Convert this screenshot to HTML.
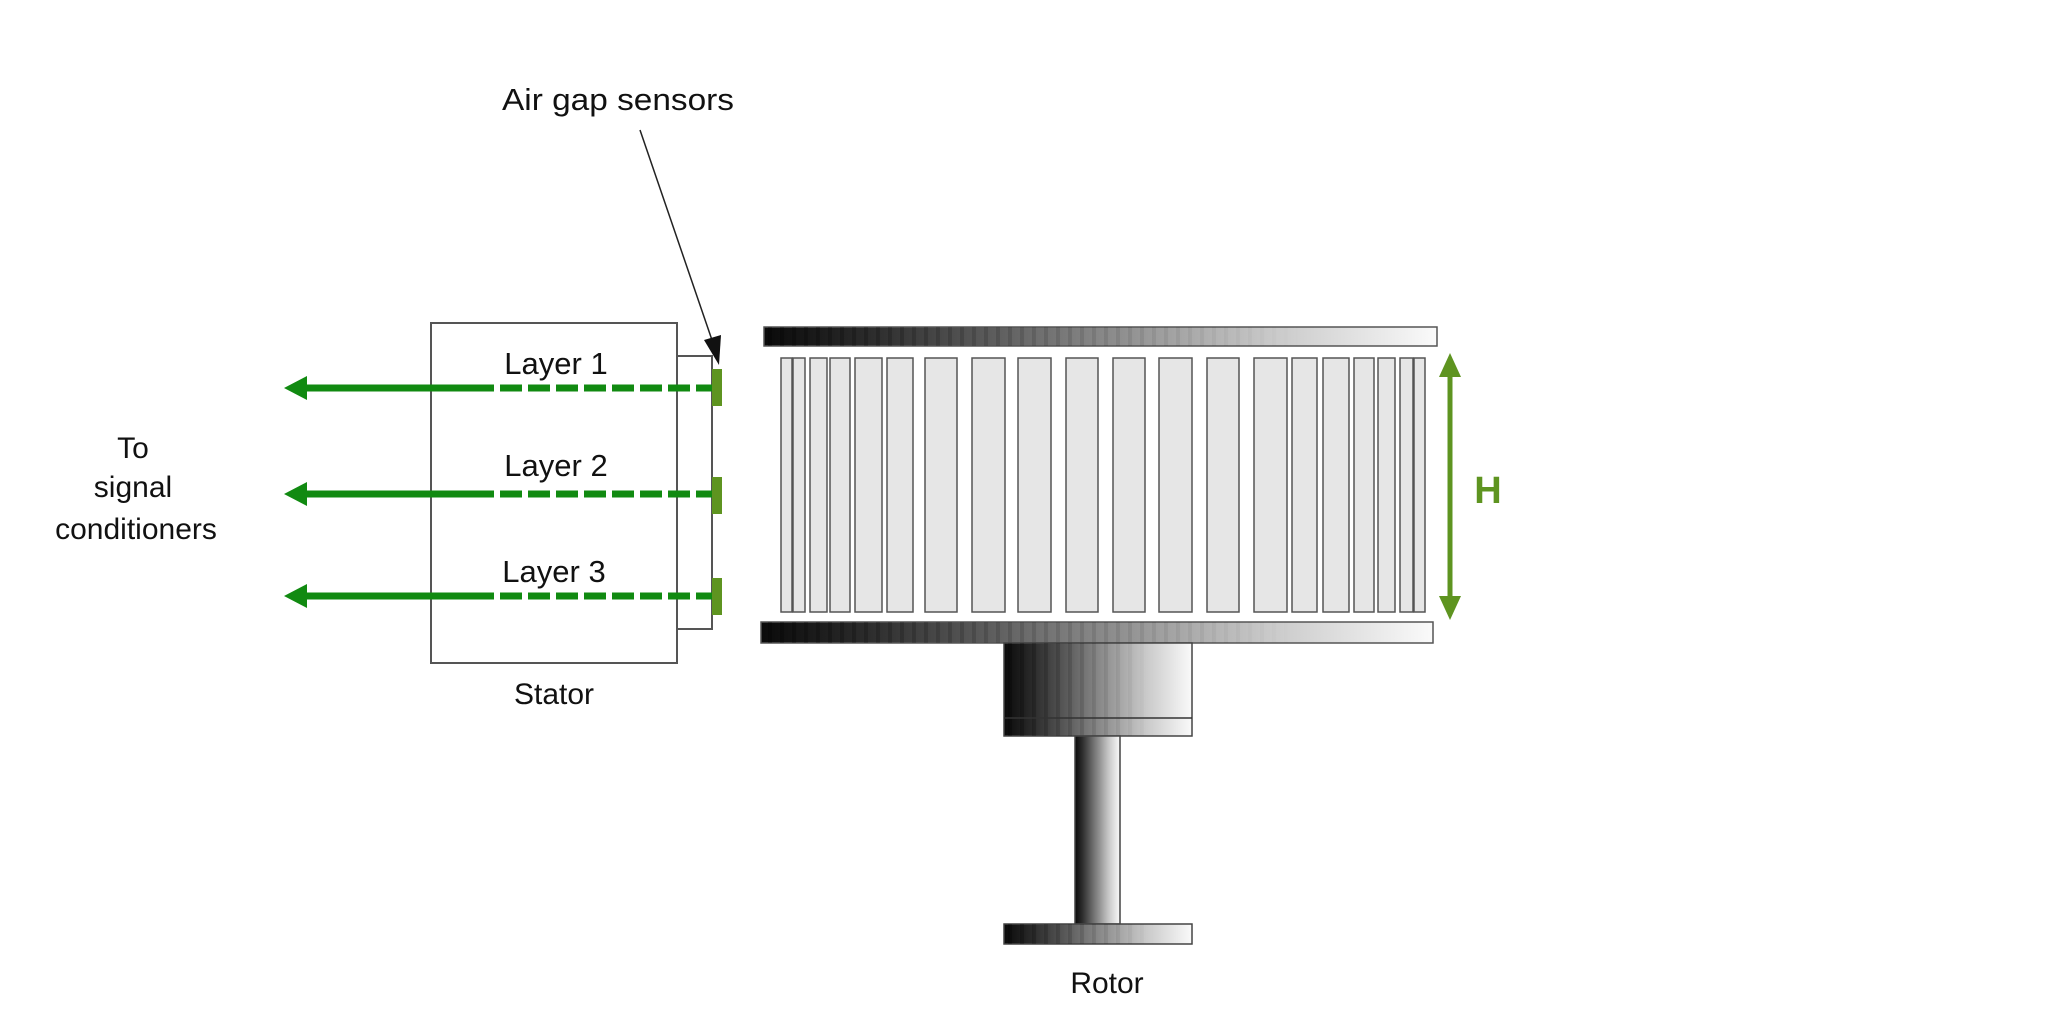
<!DOCTYPE html>
<html><head><meta charset="utf-8"><style>
html,body{margin:0;padding:0;background:#fff;}
svg{display:block;}
text{font-family:"Liberation Sans",Arial,sans-serif;fill:#111;}
</style></head><body>
<svg width="2048" height="1024" viewBox="0 0 2048 1024" xmlns="http://www.w3.org/2000/svg">
<defs>
<linearGradient id="g" x1="0" x2="1" y1="0" y2="0">
<stop offset="0" stop-color="#0a0a0a"/>
<stop offset="0.15" stop-color="#2a2a2a"/>
<stop offset="0.45" stop-color="#7a7a7a"/>
<stop offset="0.75" stop-color="#c8c8c8"/>
<stop offset="1" stop-color="#fafafa"/>
</linearGradient>
<pattern id="st" width="12" height="10" patternUnits="userSpaceOnUse">
<rect x="0" y="0" width="4" height="10" fill="rgba(0,0,0,0.22)"/>
</pattern>
<linearGradient id="mk" x1="0" x2="1">
<stop offset="0" stop-color="#fff"/>
<stop offset="0.5" stop-color="#fff" stop-opacity="0.4"/>
<stop offset="0.8" stop-color="#fff" stop-opacity="0"/>
</linearGradient>
<mask id="m" maskContentUnits="objectBoundingBox">
<rect x="0" y="0" width="1" height="1" fill="url(#mk)"/>
</mask>
</defs>

<!-- Stator -->
<rect x="431" y="323" width="246" height="340" fill="#fff" stroke="#555" stroke-width="2"/>
<polyline points="677,356 712,356 712,629 677,629" fill="none" stroke="#555" stroke-width="2"/>

<!-- arrows -->
<g stroke="#118a11" stroke-width="7" fill="none">
<line x1="300" y1="388" x2="472" y2="388"/>
<line x1="300" y1="494" x2="472" y2="494"/>
<line x1="300" y1="596" x2="472" y2="596"/>
<line x1="472" y1="388" x2="712" y2="388" stroke-dasharray="22,6"/>
<line x1="472" y1="494" x2="712" y2="494" stroke-dasharray="22,6"/>
<line x1="472" y1="596" x2="712" y2="596" stroke-dasharray="22,6"/>
</g>
<g fill="#118a11">
<polygon points="284,388 307,376 307,400"/>
<polygon points="284,494 307,482 307,506"/>
<polygon points="284,596 307,584 307,608"/>
</g>
<!-- sensors -->
<g fill="#5e9420">
<rect x="712" y="369" width="10" height="37"/>
<rect x="712" y="477" width="10" height="37"/>
<rect x="712" y="578" width="10" height="37"/>
</g>

<!-- leader -->
<line x1="640" y1="130" x2="713" y2="343" stroke="#222" stroke-width="1.5"/>
<polygon points="719,365 704,340 721,335" fill="#111"/>

<!-- labels -->
<text x="618" y="110" font-size="31" text-anchor="middle" textLength="232" lengthAdjust="spacingAndGlyphs">Air gap sensors</text>
<text x="556" y="374" font-size="31" text-anchor="middle">Layer 1</text>
<text x="556" y="476" font-size="31" text-anchor="middle">Layer 2</text>
<text x="554" y="582" font-size="31" text-anchor="middle">Layer 3</text>
<text x="554" y="704" font-size="30" text-anchor="middle">Stator</text>
<text x="133" y="458" font-size="30" text-anchor="middle">To</text>
<text x="133" y="497" font-size="30" text-anchor="middle">signal</text>
<text x="136" y="539" font-size="30" text-anchor="middle">conditioners</text>
<text x="1107" y="993" font-size="30" text-anchor="middle">Rotor</text>

<!-- rotor bars -->
<rect x="764" y="327" width="673" height="19" fill="url(#g)" stroke="#555" stroke-width="1.5"/>
<rect x="764" y="327" width="673" height="19" fill="url(#st)" mask="url(#m)"/>
<rect x="761" y="622" width="672" height="21" fill="url(#g)" stroke="#555" stroke-width="1.5"/>
<rect x="761" y="622" width="672" height="21" fill="url(#st)" mask="url(#m)"/>

<!-- slats -->
<g fill="#e6e6e6" stroke="#555" stroke-width="1.5">
<rect x="781" y="358" width="11" height="254"/>
<rect x="793" y="358" width="12" height="254"/>
<rect x="810" y="358" width="17" height="254"/>
<rect x="830" y="358" width="20" height="254"/>
<rect x="855" y="358" width="27" height="254"/>
<rect x="887" y="358" width="26" height="254"/>
<rect x="925" y="358" width="32" height="254"/>
<rect x="972" y="358" width="33" height="254"/>
<rect x="1018" y="358" width="33" height="254"/>
<rect x="1066" y="358" width="32" height="254"/>
<rect x="1113" y="358" width="32" height="254"/>
<rect x="1159" y="358" width="33" height="254"/>
<rect x="1207" y="358" width="32" height="254"/>
<rect x="1254" y="358" width="33" height="254"/>
<rect x="1292" y="358" width="25" height="254"/>
<rect x="1323" y="358" width="26" height="254"/>
<rect x="1354" y="358" width="20" height="254"/>
<rect x="1378" y="358" width="17" height="254"/>
<rect x="1400" y="358" width="13" height="254"/>
<rect x="1414" y="358" width="11" height="254"/>
</g>

<!-- H arrow -->
<line x1="1450" y1="372" x2="1450" y2="601" stroke="#5e9420" stroke-width="5"/>
<polygon points="1450,353 1439,377 1461,377" fill="#5e9420"/>
<polygon points="1450,620 1439,596 1461,596" fill="#5e9420"/>
<text x="1488" y="503" font-size="38" font-weight="bold" text-anchor="middle" style="fill:#5e9420">H</text>

<!-- hub -->
<rect x="1004" y="643" width="188" height="93" fill="url(#g)" stroke="#444" stroke-width="1.5"/>
<rect x="1004" y="643" width="188" height="93" fill="url(#st)" mask="url(#m)"/>
<line x1="1004" y1="718" x2="1192" y2="718" stroke="#333" stroke-width="1.5"/>
<!-- shaft -->
<rect x="1075" y="736" width="45" height="188" fill="url(#g)" stroke="#444" stroke-width="1.5"/>
<!-- base -->
<rect x="1004" y="924" width="188" height="20" fill="url(#g)" stroke="#444" stroke-width="1.5"/>
<rect x="1004" y="924" width="188" height="20" fill="url(#st)" mask="url(#m)"/>
</svg>
</body></html>
